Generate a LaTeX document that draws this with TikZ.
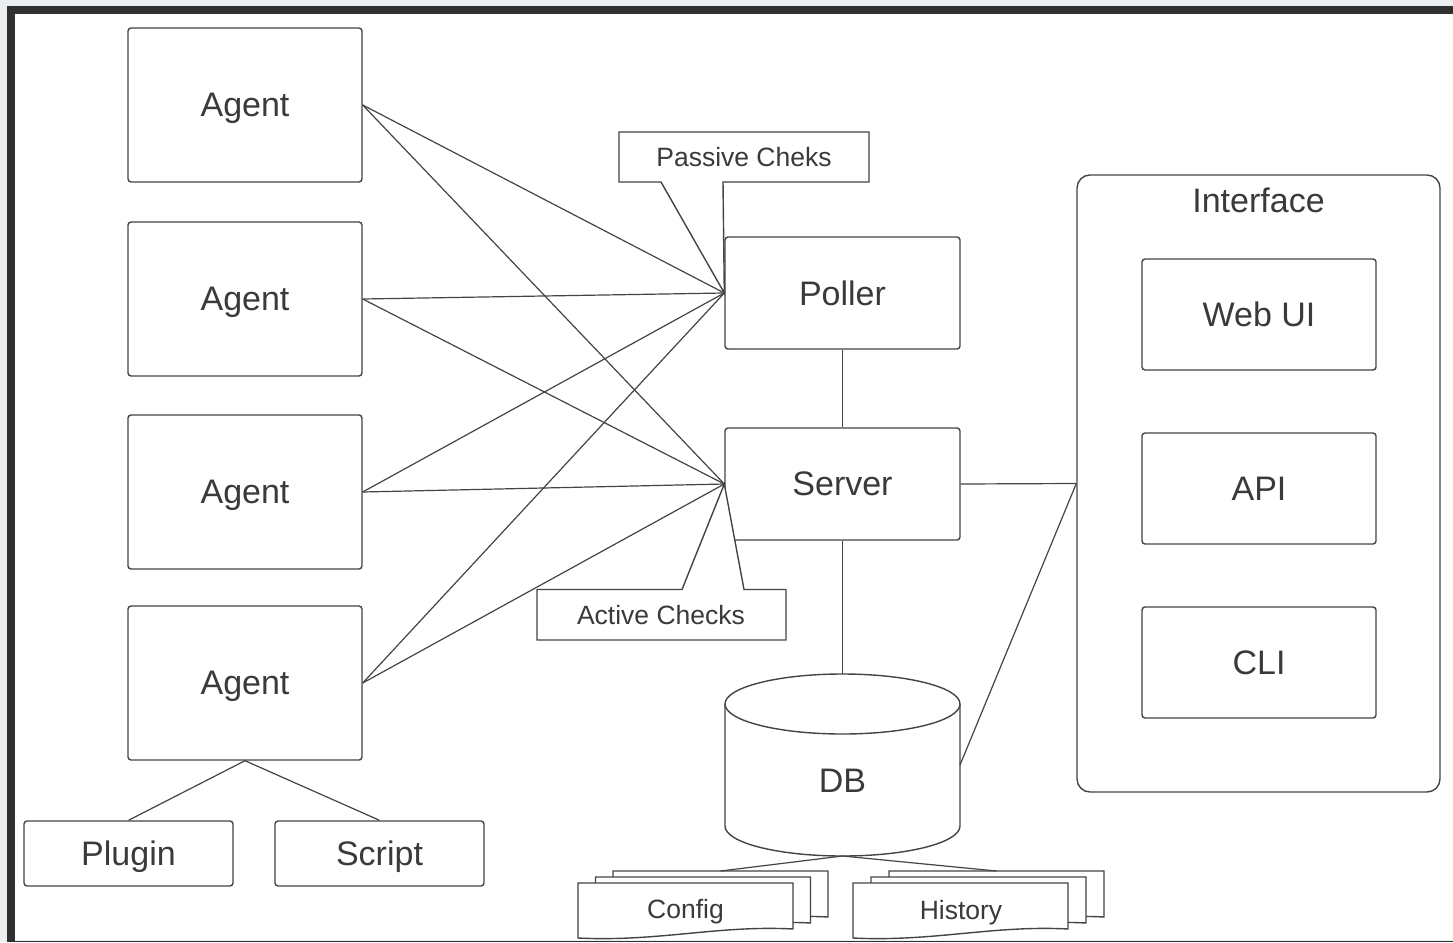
\documentclass[tikz,border=0pt]{standalone}
\usepackage{fontspec}
\setmainfont{Liberation Sans}
\definecolor{ink}{HTML}{3A3A3A}
\definecolor{linec}{HTML}{444444}
\definecolor{bggray}{HTML}{ECEFF1}
\definecolor{framec}{HTML}{303030}
\newcommand\bigtxt{\fontsize{34}{40}\selectfont}
\newcommand\smalltxt{\fontsize{26.5}{32}\selectfont}
\tikzset{
  basebox/.style={draw=linec, line width=1.4pt, fill=white, rounded corners=3pt, inner sep=0pt, text=ink, font=\bigtxt, text depth=0pt},
  agentbox/.style={basebox, minimum width=234pt, minimum height=154pt},
  midbox/.style={basebox, minimum width=235pt, minimum height=112pt},
  ibox/.style={basebox, minimum width=234pt, minimum height=111pt},
  smallbox/.style={basebox, minimum width=209pt, minimum height=65pt},
  ifacebox/.style={draw=linec, line width=1.4pt, fill=white, rounded corners=13pt, inner sep=0pt, minimum width=363pt, minimum height=617pt},
  bigtext/.style={text=ink, font=\bigtxt, inner sep=0pt, text depth=0pt},
  smalltext/.style={text=ink, font=\smalltxt, inner sep=0pt, text depth=0pt},
  shapeline/.style={draw=linec, line width=1.4pt, fill=white, line join=miter},
  conn/.style={draw=linec, line width=1.2pt},
  docshape/.pic={
    \path[shapeline] (0,0) -- (215,0) -- (215,46) .. controls (140,42) and (80,59) .. (0,55) -- cycle;
  }
}
\begin{document}
\begin{tikzpicture}[x=1pt,y=-1pt]
\useasboundingbox (0,0) rectangle (1453,942);
% window frame
\fill[bggray] (0,0) rectangle (1453,942);
\fill[white] (15,14) rectangle (1453,940);
\fill[framec] (7,6) rectangle (1453,14);
\fill[framec] (7,6) rectangle (15,942);
\fill[framec] (15,940.5) rectangle (1453,942);

% agents
\node[agentbox] (a1) at (245,105) {Agent};
\node[agentbox] (a2) at (245,299) {Agent};
\node[agentbox] (a3) at (245,492) {Agent};
\node[agentbox] (a4) at (245,683) {Agent};

% plugin / script
\node[smallbox] (plugin) at (128.5,853.5) {Plugin};
\node[smallbox] (script) at (379.5,853.5) {Script};

% poller / server
\node[midbox] (poller) at (842.5,293) {Poller};
\node[midbox] (server) at (842.5,484) {Server};

% interface
\node[ifacebox] (iface) at (1258.5,483.5) {};
\node[bigtext] (ifacetitle) at (1258.5,200) {Interface};
\node[ibox] (webui) at (1259,314.5) {Web UI};
\node[ibox] (api) at (1259,488.5) {API};
\node[ibox] (cli) at (1259,662.5) {CLI};

% callouts
\path[shapeline] (619,132) -- (869,132) -- (869,182) -- (723,182) -- (poller.west) -- (661,182) -- (619,182) -- cycle;
\node[smalltext] (passive) at (744,157) {Passive Cheks};
\path[shapeline] (537,589.5) -- (682,589.5) -- (server.west) -- (744,589.5) -- (786,589.5) -- (786,640) -- (537,640) -- cycle;
\node[smalltext] (active) at (661,615) {Active Checks};

% database
\path[shapeline] (725,704) -- (725,826) arc[x radius=117.5pt, y radius=30pt, start angle=180, end angle=360] -- (960,704) arc[x radius=117.5pt, y radius=30pt, start angle=0, end angle=180] -- cycle;
\draw[draw=linec, line width=1.4pt] (725,704) arc[x radius=117.5pt, y radius=30pt, start angle=180, end angle=360];
\node[bigtext] (db) at (842.5,780.5) {DB};
\coordinate (dbtop) at (842.5,674);
\coordinate (dbeast) at (960,765);
\coordinate (dbbot) at (842.5,856);

% document stacks
\pic at (613,871) {docshape};
\pic at (595.5,877) {docshape};
\pic at (578,883) {docshape};
\node[smalltext] (config) at (685.5,909) {Config};
\coordinate (cfgtop) at (720.5,871);
\pic at (889,871) {docshape};
\pic at (871,877) {docshape};
\pic at (853,883) {docshape};
\node[smalltext] (history) at (961,910) {History};
\coordinate (histtop) at (996.5,871);

% connectors
\foreach \a in {a1,a2,a3,a4}{
  \draw[conn] (\a.east) -- (poller.west);
  \draw[conn] (\a.east) -- (server.west);
}
\draw[conn] (poller.south) -- (server.north);
\draw[conn] (server.east) -- (iface.west);
\draw[conn] (server.south) -- (dbtop);
\draw[conn] (dbeast) -- (iface.west);
\draw[conn] (a4.south) -- (plugin.north);
\draw[conn] (a4.south) -- (script.north);
\draw[conn] (dbbot) -- (cfgtop);
\draw[conn] (dbbot) -- (histtop);
\end{tikzpicture}
\end{document}
